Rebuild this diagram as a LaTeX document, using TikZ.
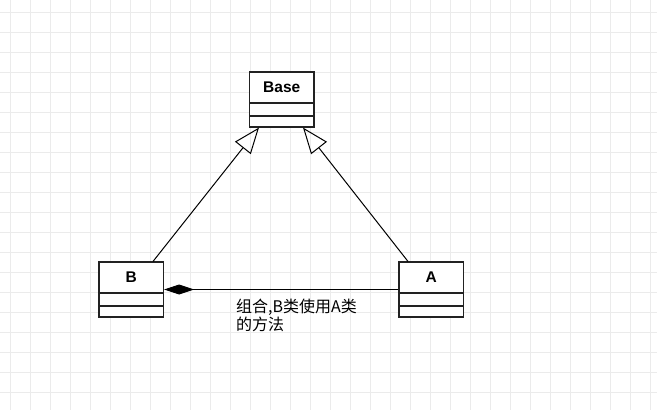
\documentclass[tikz,border=0pt]{standalone}
\usepackage{fontspec}
\setmainfont{Liberation Sans}
\newfontfamily\cjk{Noto Sans CJK SC}
\usetikzlibrary{arrows.meta}
\definecolor{gridc}{HTML}{EBEBEB}
\definecolor{edge}{HTML}{222222}
\tikzset{
  classbox/.style={draw=edge, line width=1.1pt, fill=white, minimum width=64.5pt, minimum height=55pt, inner sep=0pt},
  title/.style={font=\fontsize{15.5}{18}\selectfont\bfseries, inner sep=0pt},
  conn/.style={draw=black, line width=1pt},
  inherit/.style={conn, -{Triangle[open, length=26pt, width=20pt, line width=1pt]}},
  compose/.style={conn, {Diamond[length=30pt, width=10pt]}-},
  lbl/.style={font=\cjk\fontsize{16}{18.5}\selectfont, align=left, inner sep=0pt, anchor=north west}
}
\begin{document}
\begin{tikzpicture}[x=1pt, y=-1pt]
\useasboundingbox (0,0) rectangle (657,410);
\fill[white] (0,0) rectangle (657,410);
\foreach \gx in {10,30,...,650} { \draw[gridc, line width=1pt] (\gx,0) -- (\gx,410); }
\foreach \gy in {12,32,...,410} { \draw[gridc, line width=1pt] (0,\gy) -- (657,\gy); }
% classes
\node[classbox] (base) at (281.75,99.5) {};
\draw[edge, line width=1.1pt] (249.5,103) -- (314,103) (249.5,116) -- (314,116);
\node[title] (basel) at (281.75,87.5) {Base};
\node[classbox] (b) at (131.25,289.5) {};
\draw[edge, line width=1.1pt] (99,293) -- (163.5,293) (99,306) -- (163.5,306);
\node[title] (bl) at (131.25,277.5) {B};
\node[classbox] (a) at (431.25,289.5) {};
\draw[edge, line width=1.1pt] (399,293) -- (463.5,293) (399,306) -- (463.5,306);
\node[title] (al) at (431.25,277.5) {A};
% connectors
\draw[inherit] ([xshift=21.75pt]b.north) -- ([xshift=-22.75pt]base.south);
\draw[inherit] ([xshift=-23.25pt]a.north) -- ([xshift=21.25pt]base.south);
\draw[compose] (b.east) -- (a.west);
\node[lbl] (note) at (236,298.5) {组合,B类使用A类\\的方法};
\end{tikzpicture}
\end{document}
